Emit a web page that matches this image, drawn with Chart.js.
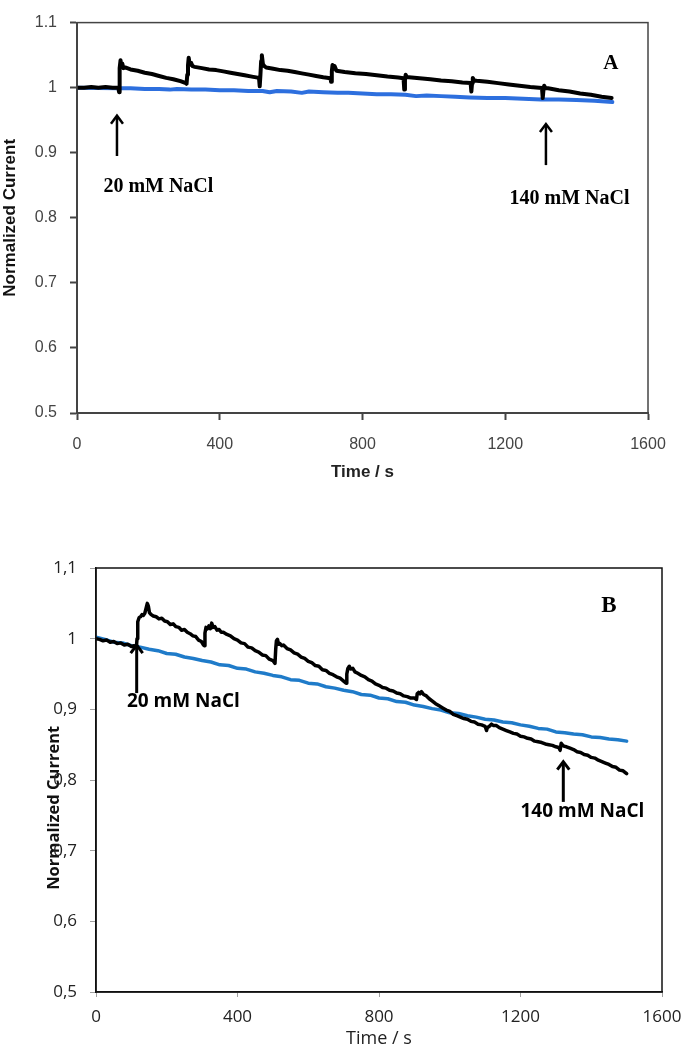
<!DOCTYPE html>
<html>
<head>
<meta charset="utf-8">
<script src="https://cdn.jsdelivr.net/npm/chart.js@4.4.1/dist/chart.umd.min.js"></script>
<style>
    html, body { margin: 0; padding: 0; background: #fff; overflow: hidden; }
    #panelA { position: absolute; left: 0; top: 0; }
    #panelB { position: absolute; left: 0; top: 520px; }
</style>
</head>
<body>
<canvas id="panelA" width="681" height="500"></canvas>
<canvas id="panelB" width="700" height="528"></canvas>
<script>
// shared axis ticks
const xTicks = [0, 400, 800, 1200, 1600];
const yTicks = [0.5, 0.6, 0.7, 0.8, 0.9, 1.0, 1.1];

// Panel A: time (s) / normalized current, NaCl additions (black) vs control (blue)
const timeA_black = [
    0, 20, 40, 60, 80, 100, 112, 116, 118, 119, 120, 122, 124, 127, 130, 135,
    150, 170, 190, 210, 230, 250, 270, 290, 305, 307, 309, 311, 313, 316, 320, 324,
    330, 350, 370, 390, 410, 430, 450, 470, 490, 510, 512, 514, 516, 518, 521, 525,
    530, 550, 570, 590, 610, 630, 650, 670, 690, 710, 712, 714, 716, 719, 722, 727,
    750, 780, 810, 840, 870, 900, 915, 917, 919, 921, 924, 930,
    960, 990, 1020, 1050, 1080, 1103, 1105, 1107, 1109, 1113, 1120,
    1150, 1180, 1210, 1240, 1270, 1303, 1305, 1307, 1309, 1313, 1320,
    1350, 1380, 1410, 1440, 1470, 1498,
];
const currentA_black = [
    1.000, 1.000, 1.001, 1.000, 1.001, 1.000, 1.000, 0.999, 0.993, 1.000, 1.030, 1.042, 1.033, 1.037, 1.030, 1.031,
    1.028, 1.026, 1.023, 1.021, 1.018, 1.015, 1.013, 1.010, 1.007, 1.006, 1.020, 1.034, 1.046, 1.035, 1.038, 1.033,
    1.032, 1.030, 1.028, 1.027, 1.025, 1.023, 1.021, 1.019, 1.017, 1.015, 1.002, 1.020, 1.041, 1.050, 1.036, 1.033,
    1.031, 1.029, 1.027, 1.026, 1.024, 1.022, 1.020, 1.018, 1.016, 1.0145, 1.009, 1.025, 1.035, 1.029, 1.033, 1.026,
    1.024, 1.022, 1.021, 1.019, 1.017, 1.0155, 1.0145, 0.997, 1.012, 1.020, 1.016, 1.016,
    1.0145, 1.013, 1.011, 1.010, 1.008, 1.007, 0.994, 1.007, 1.015, 1.011, 1.0105,
    1.009, 1.007, 1.005, 1.003, 1.001, 0.9995, 0.984, 0.996, 1.003, 0.999, 0.999,
    0.996, 0.994, 0.991, 0.989, 0.986, 0.984,
];
const timeA_blue = [
    0, 118, 150, 190, 230, 260, 280, 320, 360, 400, 440, 480, 520, 540, 560, 600,
    630, 650, 690, 730, 760, 800, 840, 880, 920, 950, 980, 1020, 1060, 1100,
    1150, 1200, 1250, 1300, 1350, 1400, 1450, 1500,
];
const currentA_blue = [
    1.000, 0.999, 0.999, 0.998, 0.998, 0.997, 0.998, 0.997, 0.997, 0.996, 0.996, 0.995, 0.995, 0.993, 0.995, 0.994,
    0.992, 0.994, 0.993, 0.992, 0.992, 0.991, 0.990, 0.990, 0.989, 0.987, 0.988, 0.987, 0.986, 0.985,
    0.984, 0.984, 0.983, 0.982, 0.982, 0.981, 0.980, 0.978,
];

// Panel B
const timeB_black = [
    0, 10, 20, 30, 40, 50, 60, 70, 80, 90, 100, 108, 114, 116, 118, 122, 126, 130, 134, 138, 142, 145, 148, 151, 156, 162,
    170, 178, 186, 194, 202, 210, 218, 226, 234, 242, 250, 258, 266, 274, 282, 290, 298, 304, 307,
    308, 311, 315, 319, 323, 327, 331, 336, 342, 348, 354, 360, 370, 380, 390, 400, 410, 420, 430, 440,
    450, 460, 470, 480, 490, 500, 506, 508, 510, 513, 516, 520, 525, 530, 540, 550, 560, 570, 580, 590,
    600, 610, 620, 630, 640, 650, 660, 670, 680, 690, 700, 707, 709, 712, 716, 720, 726, 732, 740, 750,
    760, 770, 780, 790, 800, 810, 820, 830, 840, 850, 860, 870, 880, 890, 900, 906, 908, 912, 916, 920,
    926, 934, 942, 950, 960, 970, 980, 990, 1000, 1010, 1020, 1030, 1040, 1050, 1060, 1070, 1080, 1090,
    1100, 1104, 1106, 1112, 1118, 1124, 1132, 1140, 1150, 1160, 1170, 1180, 1190, 1200, 1210, 1220, 1230,
    1240, 1250, 1260, 1270, 1280, 1290, 1300, 1308, 1312, 1315, 1318, 1322, 1330, 1340, 1350, 1360, 1370,
    1380, 1390, 1400, 1410, 1420, 1430, 1440, 1450, 1460, 1470, 1480, 1490, 1500,
];
const currentB_black = [
    1.000, 0.999, 0.997, 0.998, 0.995, 0.996, 0.993, 0.994, 0.991, 0.992, 0.989, 0.990, 0.987, 1.000, 1.024, 1.030, 1.031, 1.034, 1.033, 1.036, 1.044, 1.050, 1.046, 1.037, 1.034, 1.032,
    1.031, 1.028, 1.029, 1.025, 1.024, 1.020, 1.021, 1.017, 1.016, 1.012, 1.013, 1.009, 1.007, 1.004, 1.003, 0.998, 0.996, 0.991, 0.990,
    1.008, 1.016, 1.014, 1.018, 1.014, 1.022, 1.016, 1.017, 1.012, 1.013, 1.009, 1.009, 1.006, 1.004, 1.000, 0.998, 0.994, 0.993, 0.988, 0.987,
    0.983, 0.981, 0.977, 0.976, 0.971, 0.969, 0.965, 0.985, 0.997, 0.999, 0.992, 0.993, 0.990, 0.991, 0.986, 0.984, 0.980, 0.978, 0.974, 0.972,
    0.968, 0.966, 0.962, 0.961, 0.956, 0.955, 0.951, 0.949, 0.946, 0.944, 0.940, 0.937, 0.950, 0.958, 0.961, 0.957, 0.958, 0.953, 0.951, 0.948,
    0.946, 0.942, 0.940, 0.936, 0.934, 0.931, 0.930, 0.927, 0.926, 0.923, 0.922, 0.919, 0.918, 0.916, 0.916, 0.914, 0.922, 0.924, 0.922, 0.925,
    0.921, 0.919, 0.915, 0.912, 0.908, 0.905, 0.902, 0.899, 0.897, 0.893, 0.891, 0.889, 0.887, 0.886, 0.883, 0.882, 0.879, 0.878,
    0.876, 0.870, 0.874, 0.876, 0.879, 0.877, 0.877, 0.874, 0.872, 0.870, 0.868, 0.866, 0.865, 0.862, 0.861, 0.859, 0.858,
    0.855, 0.854, 0.853, 0.851, 0.850, 0.849, 0.847, 0.846, 0.842, 0.852, 0.850, 0.848, 0.847, 0.845, 0.843, 0.840, 0.839,
    0.836, 0.835, 0.832, 0.831, 0.828, 0.826, 0.824, 0.822, 0.819, 0.818, 0.814, 0.813, 0.809,
];
const timeB_blue = [
    0, 25, 50, 75, 100, 125, 150, 175, 200, 225, 250, 275, 300, 325, 350, 375, 400, 425, 450, 475,
    500, 525, 550, 575, 600, 625, 650, 675, 700, 725, 750, 775, 800, 825, 850, 875, 900, 925, 950, 975,
    1000, 1025, 1050, 1075, 1100, 1125, 1150, 1175, 1200, 1225, 1250, 1275, 1300, 1325, 1350, 1375, 1400, 1425, 1450, 1475, 1500,
];
const currentB_blue = [
    1.002, 0.999, 0.995, 0.994, 0.990, 0.988, 0.985, 0.983, 0.979, 0.978, 0.974, 0.972, 0.969, 0.967, 0.963, 0.962, 0.958, 0.957, 0.953, 0.951,
    0.948, 0.946, 0.942, 0.941, 0.937, 0.936, 0.932, 0.930, 0.927, 0.925, 0.921, 0.920, 0.916, 0.915, 0.911, 0.910, 0.906, 0.904, 0.901, 0.899,
    0.895, 0.894, 0.891, 0.889, 0.886, 0.885, 0.882, 0.881, 0.878, 0.876, 0.873, 0.872, 0.868, 0.867, 0.865, 0.864, 0.861, 0.860, 0.858, 0.857, 0.855,
];

function toPoints(xs, ys) {
    return xs.map((x, i) => ({ x, y: ys[i] }));
}

/** Box round the plot area (reference has top and right edges too). */
const framePlugin = {
    id: "frame",
    afterDatasetsDraw(chart, _args, opts) {
        const { ctx, chartArea: a } = chart;
        ctx.save();
        ctx.strokeStyle = opts.color;
        ctx.lineWidth = opts.width;
        ctx.strokeRect(a.left, a.top, a.right - a.left, a.bottom - a.top);
        ctx.restore();
    },
};

/** Arrows and text placed in data units through the chart scales. */
const notesPlugin = {
    id: "notes",
    afterDatasetsDraw(chart, _args, opts) {
        const { ctx, scales } = chart;
        const sx = scales.x;
        const sy = scales.y;
        ctx.save();
        ctx.strokeStyle = "#000";
        ctx.fillStyle = "#000";
        ctx.lineWidth = opts.arrowWidth;
        ctx.lineCap = "butt";
        for (const a of opts.arrows) {
            const px = sx.getPixelForValue(a.t);
            const y0 = sy.getPixelForValue(a.from);
            const y1 = sy.getPixelForValue(a.to);
            ctx.beginPath();
            ctx.moveTo(px, y0);
            ctx.lineTo(px, y1 + 1);
            ctx.stroke();
            ctx.beginPath();
            ctx.moveTo(px - opts.head, y1 + opts.head + 2);
            ctx.lineTo(px, y1);
            ctx.lineTo(px + opts.head, y1 + opts.head + 2);
            ctx.stroke();
        }
        ctx.textAlign = "center";
        ctx.textBaseline = "middle";
        for (const l of opts.labels) {
            ctx.font = l.font;
            ctx.fillText(l.text, sx.getPixelForValue(l.t), sy.getPixelForValue(l.v));
        }
        ctx.restore();
    },
};

function makePanel(canvasId, cfg) {
    const lineStyle = {
        borderWidth: cfg.lineWidth,
        borderJoinStyle: "round",
        borderCapStyle: "round",
        pointRadius: 0,
        tension: 0,
    };
    return new Chart(document.getElementById(canvasId), {
        type: "line",
        data: {
            datasets: [
                {
                    ...lineStyle,
                    data: toPoints(cfg.blackX, cfg.blackY),
                    borderColor: "#000",
                },
                {
                    ...lineStyle,
                    data: toPoints(cfg.blueX, cfg.blueY),
                    borderColor: cfg.blue,
                },
            ],
        },
        options: {
            responsive: false,
            animation: false,
            events: [],
            layout: { padding: cfg.padding },
            plugins: {
                legend: { display: false },
                tooltip: { enabled: false },
                frame: cfg.frame,
                notes: cfg.notes,
            },
            scales: {
                x: {
                    type: "linear",
                    min: xTicks[0],
                    max: xTicks[xTicks.length - 1],
                    afterBuildTicks(scale) {
                        scale.ticks = xTicks.map((v) => ({ value: v }));
                    },
                    afterFit(scale) {
                        scale.height = cfg.xAxisHeight;
                    },
                    grid: {
                        drawOnChartArea: false,
                        tickLength: cfg.xTickLength,
                        tickColor: cfg.tickColor,
                        tickWidth: cfg.tickWidth,
                    },
                    border: { color: cfg.axisColor, width: cfg.axisWidth },
                    ticks: {
                        padding: cfg.xTickPadding,
                        color: cfg.labelColor,
                        font: cfg.tickFont,
                        maxRotation: 0,
                        callback: (v) => String(v),
                    },
                    title: {
                        display: true,
                        text: "Time / s",
                        color: "#222",
                        font: cfg.xTitleFont,
                        padding: cfg.xTitlePadding,
                    },
                },
                y: {
                    type: "linear",
                    min: yTicks[0],
                    max: yTicks[yTicks.length - 1],
                    afterBuildTicks(scale) {
                        scale.ticks = yTicks.map((v) => ({ value: v }));
                    },
                    afterFit(scale) {
                        scale.width = cfg.yAxisWidth;
                    },
                    grid: {
                        drawOnChartArea: false,
                        tickLength: cfg.yTickLength,
                        tickColor: cfg.tickColor,
                        tickWidth: cfg.tickWidth,
                    },
                    border: { color: cfg.axisColor, width: cfg.axisWidth },
                    ticks: {
                        padding: 13,
                        color: cfg.labelColor,
                        font: cfg.tickFont,
                        callback: (v) => cfg.fmtY(v),
                    },
                    title: {
                        display: true,
                        text: cfg.yTitle,
                        color: "#111",
                        font: cfg.yTitleFont,
                        padding: cfg.yTitlePadding,
                    },
                },
            },
        },
        plugins: [framePlugin, notesPlugin],
    });
}

makePanel("panelA", {
    blackX: timeA_black,
    blackY: currentA_black,
    blueX: timeA_blue,
    blueY: currentA_blue,
    blue: "#2d6fde",
    lineWidth: 4,
    padding: { top: 15, right: 33, left: 0, bottom: 0 },
    xAxisHeight: 87,
    yAxisWidth: 77,
    xTickLength: 7,
    yTickLength: 7,
    tickColor: "#444",
    tickWidth: 2,
    axisColor: "#444",
    axisWidth: 2,
    labelColor: "#444",
    tickFont: { family: "'Liberation Sans', Arial, sans-serif", size: 16 },
    xTickPadding: 15,
    xTitleFont: { family: "'Liberation Sans', Arial, sans-serif", size: 17, weight: "bold" },
    xTitlePadding: { top: 0, bottom: 17 },
    yTitle: "Normalized Current",
    yTitleFont: { family: "'Liberation Sans', Arial, sans-serif", size: 17, weight: "bold" },
    yTitlePadding: { top: 0, bottom: 0 },
    fmtY: (v) => String(+v.toFixed(1)),
    frame: { color: "#444", width: 1.5 },
    notes: {
        arrowWidth: 2.5,
        head: 6,
        arrows: [
            { t: 112, from: 0.895, to: 0.957 },
            { t: 1314, from: 0.881, to: 0.944 },
        ],
        labels: [
            { text: "20 mM NaCl", t: 228, v: 0.848, font: "bold 20px 'Liberation Serif', serif" },
            { text: "140 mM NaCl", t: 1380, v: 0.8285, font: "bold 20px 'Liberation Serif', serif" },
            { text: "A", t: 1496, v: 1.0367, font: "bold 21px 'Liberation Serif', serif" },
        ],
    },
});

makePanel("panelB", {
    blackX: timeB_black,
    blackY: currentB_black,
    blueX: timeB_blue,
    blueY: currentB_blue,
    blue: "#1f7bc9",
    lineWidth: 3.5,
    padding: { top: 48, right: 38, left: 0, bottom: 0 },
    xAxisHeight: 56,
    yAxisWidth: 96,
    xTickLength: 5,
    yTickLength: 6,
    tickColor: "#a0a0a0",
    tickWidth: 1,
    axisColor: "#111",
    axisWidth: 1.5,
    labelColor: "#222",
    tickFont: { family: "'Open Sans', sans-serif", size: 17 },
    xTickPadding: 10,
    xTitleFont: { family: "'Open Sans', sans-serif", size: 18, lineHeight: 1 },
    xTitlePadding: { top: 0, bottom: 0 },
    // trailing no-break spaces push the visible title down, as in the original figure
    yTitle: "Normalized Current" + "\u00a0".repeat(13),
    yTitleFont: { family: "'Open Sans', sans-serif", size: 16.5, weight: "bold" },
    yTitlePadding: { top: 44, bottom: 0 },
    fmtY: (v) => String(+v.toFixed(1)).replace(".", ","),
    frame: { color: "#111", width: 1.5 },
    notes: {
        arrowWidth: 3,
        head: 6,
        arrows: [
            { t: 115, from: 0.923, to: 0.991 },
            { t: 1321, from: 0.769, to: 0.826 },
        ],
        labels: [
            { text: "20 mM NaCl", t: 247, v: 0.911, font: "bold 19px 'Open Sans', sans-serif" },
            { text: "140 mM NaCl", t: 1375, v: 0.755, font: "bold 19px 'Open Sans', sans-serif" },
            { text: "B", t: 1450, v: 1.046, font: "bold 23px 'Liberation Serif', serif" },
        ],
    },
});
</script>
</body>
</html>
